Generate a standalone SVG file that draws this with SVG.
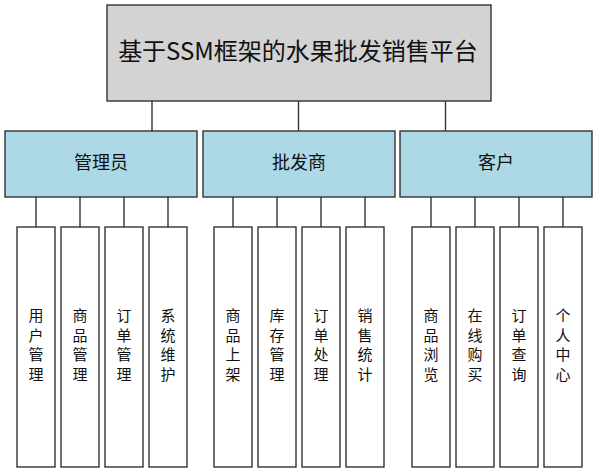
<svg xmlns="http://www.w3.org/2000/svg" width="597" height="473" viewBox="0 0 597 473">
<style>
rect{stroke:#333;stroke-width:1.4}
.top{fill:#d3d3d3}
.mid{fill:#add8e6}
.leaf{fill:#fff}
text{font-family:"Noto Sans CJK SC","Microsoft YaHei",sans-serif;fill:#111;text-anchor:middle}
.t1{font-size:24px}
.t2{font-size:18px}
.t3{font-size:15px}
#connectors line{stroke:#333;stroke-width:1.4}
</style>
<rect width="597" height="473" fill="#fff" style="stroke:none"/>
<g id="connectors">
<line x1="152" y1="101" x2="152" y2="131"/>
<line x1="298.5" y1="101" x2="298.5" y2="131"/>
<line x1="445.5" y1="101" x2="445.5" y2="131"/>
<line x1="36" y1="197" x2="36" y2="227"/>
<line x1="80" y1="197" x2="80" y2="227"/>
<line x1="124" y1="197" x2="124" y2="227"/>
<line x1="168" y1="197" x2="168" y2="227"/>
<line x1="233" y1="197" x2="233" y2="227"/>
<line x1="277" y1="197" x2="277" y2="227"/>
<line x1="321" y1="197" x2="321" y2="227"/>
<line x1="365" y1="197" x2="365" y2="227"/>
<line x1="431" y1="197" x2="431" y2="227"/>
<line x1="475" y1="197" x2="475" y2="227"/>
<line x1="519" y1="197" x2="519" y2="227"/>
<line x1="563" y1="197" x2="563" y2="227"/>
</g>
<g id="root"><rect class="top" x="107" y="5" width="384" height="96"/><text class="t1" x="298" y="60">基于SSM框架的水果批发销售平台</text></g>
<g id="admin"><rect class="mid" x="5" y="131" width="192" height="66"/><text class="t2" x="101" y="169">管理员</text></g>
<g id="wholesaler"><rect class="mid" x="203" y="131" width="192" height="66"/><text class="t2" x="299" y="169">批发商</text></g>
<g id="customer"><rect class="mid" x="400" y="131" width="192" height="66"/><text class="t2" x="496" y="169">客户</text></g>
<g id="a1"><rect class="leaf" x="17" y="227" width="38" height="240"/><text class="t3"><tspan x="36" y="321">用</tspan><tspan x="36" y="340.5">户</tspan><tspan x="36" y="360">管</tspan><tspan x="36" y="379.5">理</tspan></text></g>
<g id="a2"><rect class="leaf" x="61" y="227" width="38" height="240"/><text class="t3"><tspan x="80" y="321">商</tspan><tspan x="80" y="340.5">品</tspan><tspan x="80" y="360">管</tspan><tspan x="80" y="379.5">理</tspan></text></g>
<g id="a3"><rect class="leaf" x="105" y="227" width="38" height="240"/><text class="t3"><tspan x="124" y="321">订</tspan><tspan x="124" y="340.5">单</tspan><tspan x="124" y="360">管</tspan><tspan x="124" y="379.5">理</tspan></text></g>
<g id="a4"><rect class="leaf" x="149" y="227" width="38" height="240"/><text class="t3"><tspan x="168" y="321">系</tspan><tspan x="168" y="340.5">统</tspan><tspan x="168" y="360">维</tspan><tspan x="168" y="379.5">护</tspan></text></g>
<g id="w1"><rect class="leaf" x="214" y="227" width="38" height="240"/><text class="t3"><tspan x="233" y="321">商</tspan><tspan x="233" y="340.5">品</tspan><tspan x="233" y="360">上</tspan><tspan x="233" y="379.5">架</tspan></text></g>
<g id="w2"><rect class="leaf" x="258" y="227" width="38" height="240"/><text class="t3"><tspan x="277" y="321">库</tspan><tspan x="277" y="340.5">存</tspan><tspan x="277" y="360">管</tspan><tspan x="277" y="379.5">理</tspan></text></g>
<g id="w3"><rect class="leaf" x="302" y="227" width="38" height="240"/><text class="t3"><tspan x="321" y="321">订</tspan><tspan x="321" y="340.5">单</tspan><tspan x="321" y="360">处</tspan><tspan x="321" y="379.5">理</tspan></text></g>
<g id="w4"><rect class="leaf" x="346" y="227" width="38" height="240"/><text class="t3"><tspan x="365" y="321">销</tspan><tspan x="365" y="340.5">售</tspan><tspan x="365" y="360">统</tspan><tspan x="365" y="379.5">计</tspan></text></g>
<g id="c1"><rect class="leaf" x="412" y="227" width="38" height="240"/><text class="t3"><tspan x="431" y="321">商</tspan><tspan x="431" y="340.5">品</tspan><tspan x="431" y="360">浏</tspan><tspan x="431" y="379.5">览</tspan></text></g>
<g id="c2"><rect class="leaf" x="456" y="227" width="38" height="240"/><text class="t3"><tspan x="475" y="321">在</tspan><tspan x="475" y="340.5">线</tspan><tspan x="475" y="360">购</tspan><tspan x="475" y="379.5">买</tspan></text></g>
<g id="c3"><rect class="leaf" x="500" y="227" width="38" height="240"/><text class="t3"><tspan x="519" y="321">订</tspan><tspan x="519" y="340.5">单</tspan><tspan x="519" y="360">查</tspan><tspan x="519" y="379.5">询</tspan></text></g>
<g id="c4"><rect class="leaf" x="544" y="227" width="38" height="240"/><text class="t3"><tspan x="563" y="321">个</tspan><tspan x="563" y="340.5">人</tspan><tspan x="563" y="360">中</tspan><tspan x="563" y="379.5">心</tspan></text></g>
</svg>
